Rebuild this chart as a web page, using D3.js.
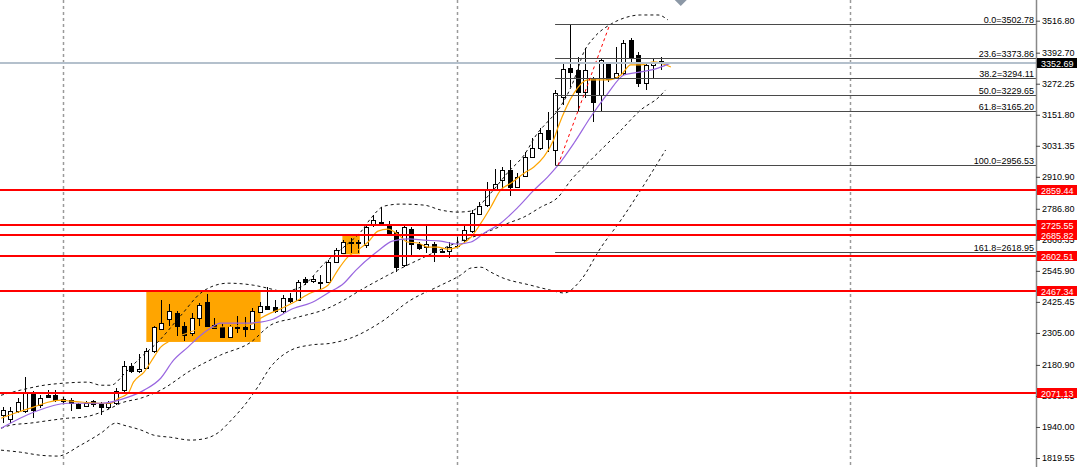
<!DOCTYPE html>
<html><head><meta charset="utf-8">
<script src="https://cdn.jsdelivr.net/npm/d3@7"></script>
<style>html,body{margin:0;padding:0;background:#fff;overflow:hidden}</style>
</head><body>
<svg id="c" width="1080" height="467"></svg>
<script>
// ---------- data ----------
const opens  = [1986,1970,2001,2001,2071,2025,2063,2063,2048,2044,2029,2021,2040,2029,2017,2032,2083,2176,2157,2168,2234,2320,2359,2382,2331,2304,2362,2425,2335,2328,2289,2324,2328,2320,2386,2409,2405,2390,2440,2432,2514,2506,2502,2502,2580,2615,2658,2654,2646,2727,2735,2727,2696,2568,2708,2650,2638,2650,2623,2623,2641,2665,2700,2766,2801,2863,2898,2937,2871,2914,2988,3022,3092,3015,3220,3333,3325,3240,3294,3228,3353,3298,3314,3442,3384,3275,3345,3360,3353];
const highs  = [2017,2017,2052,2133,2079,2063,2083,2083,2056,2052,2032,2040,2044,2036,2040,2091,2195,2188,2223,2246,2331,2432,2417,2390,2347,2382,2421,2456,2362,2339,2335,2370,2366,2401,2425,2483,2432,2452,2460,2510,2522,2526,2529,2588,2634,2665,2673,2665,2724,2762,2793,2739,2704,2724,2716,2658,2724,2658,2630,2658,2677,2724,2782,2813,2890,2941,2949,2976,2925,3007,3061,3100,3162,3248,3356,3502.78,3376,3411,3298,3372,3357,3415,3442,3450,3395,3357,3372,3376,3358];
const lows   = [1955,1955,1994,1994,1974,2013,2052,2036,2032,2001,2009,2017,2017,1986,2009,2025,2075,2149,2149,2164,2227,2316,2331,2293,2273,2293,2331,2328,2320,2285,2285,2304,2289,2316,2382,2394,2382,2382,2421,2428,2491,2498,2475,2498,2576,2611,2615,2615,2634,2716,2727,2681,2541,2560,2607,2626,2615,2580,2615,2595,2638,2658,2692,2762,2793,2859,2859,2836,2867,2910,2984,3015,3007,2956.53,3190,3259,3162,3217,3124,3162,3279,3294,3306,3357,3259,3248,3294,3325,3348];
const closes = [2005,2001,2036,2071,2005,2052,2056,2044,2040,2032,2013,2032,2029,2017,2032,2079,2176,2157,2164,2234,2328,2343,2390,2331,2296,2362,2413,2331,2324,2289,2331,2328,2320,2390,2409,2397,2390,2440,2428,2502,2502,2514,2498,2580,2626,2658,2654,2658,2716,2743,2731,2685,2560,2716,2650,2634,2650,2619,2619,2638,2643,2704,2770,2797,2859,2883,2937,2871,2910,2988,3022,3081,3057,3236,3329,3318,3240,3325,3201,3364,3290,3314,3430,3372,3275,3345,3353,3353,3352.69];

// indicator lines: [bar index, price]
const maFast = [[-0.2,1974],[2,1997],[4.1,2017],[6,2036],[7.7,2044],[9,2040],[10.7,2036],[13,2032],[14.3,2032],[15.4,2052],[16.6,2071],[17.3,2114],[18.7,2153],[20,2211],[20.9,2250],[21.8,2269],[24,2300],[27,2325],[30,2330],[33,2340],[34.1,2362],[35.4,2382],[36.4,2394],[38.5,2424],[40.7,2460],[43,2490],[44.3,2549],[45.6,2599],[46.9,2626],[48.3,2658],[49.6,2700],[50.9,2708],[52.2,2689],[53.5,2658],[54.9,2654],[56.2,2638],[57.5,2638],[58.8,2630],[60.1,2638],[60.5,2646],[61.9,2677],[63.2,2731],[64.5,2793],[65.8,2859],[67.2,2887],[68.9,2925],[70.2,2949],[71.5,2988],[72.8,3054],[73.4,3104],[75.5,3236],[77.3,3287],[80,3287],[81.7,3306],[83,3345],[84.3,3345],[86,3357],[88.3,3337]];
const maSlow = [[-0.2,1935],[4.1,1997],[8.6,2032],[13,2032],[16.6,2056],[18.7,2083],[20.9,2129],[22.6,2199],[24.5,2250],[26.2,2296],[27.5,2324],[28.8,2343],[31.9,2343],[34.1,2347],[35.4,2355],[38.5,2401],[40.7,2421],[43,2460],[45.1,2498],[46.7,2549],[49.6,2623],[51.5,2661],[53.7,2670],[55.7,2665],[57.9,2661],[60.1,2650],[61.9,2658],[63.6,2692],[65.8,2731],[68.1,2793],[70.2,2859],[72,2910],[73.4,2956],[75.5,3042],[77.7,3143],[80,3236],[82.1,3306],[84.3,3318],[86.6,3333],[88.3,3353]];
const bandUpper = [[-0.2,2063],[2.4,2083],[5.5,2102],[8.1,2110],[11.3,2114],[13,2102],[14.3,2102],[16.3,2153],[18.3,2211],[20.5,2269],[23.6,2374],[26.2,2460],[27.5,2483],[29.8,2498],[33.2,2490],[35,2479],[37,2467],[39.4,2483],[42.7,2580],[45.4,2646],[47.3,2696],[48.7,2751],[50.4,2797],[52.6,2805],[55.7,2801],[57.9,2782],[60.1,2774],[61.9,2778],[64.5,2848],[66.8,2929],[68.9,2995],[70.7,3081],[72,3124],[73.4,3170],[75.5,3287],[76.8,3395],[78.1,3450],[80.4,3504],[82.1,3527],[84.3,3539],[86.6,3539],[87.9,3520]];
const bandInner = [[-0.2,1935],[1.1,1947],[3.7,1955],[6.4,1966],[8.6,1974],[10.7,1978],[13,1997],[14.3,2013],[15.6,2032],[18.3,2052],[20.9,2083],[24.9,2160],[28.8,2219],[32.8,2269],[35.4,2335],[38.5,2362],[43,2401],[45.1,2432],[47.3,2471],[50.9,2529],[52.2,2549],[55.7,2599],[58.3,2634],[60.9,2665],[63.6,2692],[66.8,2731],[68.9,2755],[71.1,2793],[73.4,2832],[75.1,2898],[77.7,2976],[81.7,3092],[84.3,3170],[86.7,3220],[87.6,3248]];
const bandLower = [[-0.2,1850],[2.4,1842],[5.1,1830],[7.3,1827],[10.3,1869],[13,1916],[15,1955],[16,1947],[18.3,1928],[20,1908],[22.2,1900],[24.9,1889],[26.9,1896],[28.6,1920],[30.2,1966],[32.1,2029],[33.7,2094],[35.4,2172],[38.1,2238],[40.7,2258],[43.4,2265],[46,2285],[50,2347],[53.9,2432],[57.9,2490],[60.5,2529],[61.9,2557],[63.2,2560],[64.5,2541],[65.8,2522],[69.8,2490],[72.4,2471],[74.2,2460],[76.4,2510],[79,2634],[81.7,2743],[84.3,2859],[87.6,3015]];
const trendLine = [[73.4,2956.53],[80.2,3500]];

const fibLevels = ["0.0","23.6","38.2","50.0","61.8","100.0","161.8"];
const fibPrices = [3502.78,3373.86,3294.11,3229.65,3165.20,2956.53,2618.95];
const fibStartBar = 73;

const redLevels = [2859.44,2725.55,2685.82,2602.51,2467.34,2071.13];
const currentPrice = 3352.69;
const priceTicks = [3516.80,3392.70,3272.25,3151.80,3031.35,2910.90,2786.80,2666.35,2545.90,2425.45,2305.00,2180.90,2060.45,1940.00,1819.55];
const gridBars = [8,60,112];

const boxStart = [19,44.9];
const boxEnd = [34.1,47.2];
const boxTop = [2465,2685.82];
const boxBottom = [2270,2610];

// ---------- drawing ----------
const W=1080, H=467, axisX=1036;
const FONT="Liberation Sans, Arial, sans-serif";
const svg=d3.select("#c");
const x=d3.scaleLinear().domain([0,112]).range([2.5,850.3]);
const y=d3.scaleLinear().domain([1819.55,3516.80]).range([458,20.7]);

svg.append("defs").append("clipPath").attr("id","plot")
  .append("rect").attr("x",0).attr("y",0).attr("width",axisX).attr("height",H);
const plot=svg.append("g").attr("clip-path","url(#plot)");

// orange rectangles (background objects)
plot.selectAll("rect.box").data(boxStart).join("rect").attr("class","box")
  .attr("x",(d,i)=>x(d)).attr("width",(d,i)=>x(boxEnd[i])-x(d))
  .attr("y",(d,i)=>y(boxTop[i])).attr("height",(d,i)=>y(boxBottom[i])-y(boxTop[i]))
  .attr("fill","#FFA500");

// vertical grid
plot.selectAll("line.grid").data(gridBars).join("line").attr("class","grid")
  .attr("x1",d=>Math.round(x(d))+0.5).attr("x2",d=>Math.round(x(d))+0.5)
  .attr("y1",0).attr("y2",H).attr("stroke","#9a9a9a").attr("stroke-width",1.5)
  .attr("stroke-dasharray","3,3");

// candles
const idx=d3.range(opens.length);
const cg=plot.append("g");
idx.forEach(i=>{
  const xc=Math.round(x(i));
  const o=opens[i], c=closes[i];
  cg.append("line").attr("x1",xc+0.5).attr("x2",xc+0.5)
    .attr("y1",Math.round(y(highs[i]))).attr("y2",Math.round(y(lows[i])))
    .attr("stroke","#000").attr("stroke-width",1);
  const top=Math.round(y(Math.max(o,c))), bot=Math.round(y(Math.min(o,c)));
  const up=c>=o;
  if(bot-top<1){
    cg.append("line").attr("x1",xc-2).attr("x2",xc+3).attr("y1",top+0.5).attr("y2",top+0.5)
      .attr("stroke","#000").attr("stroke-width",1);
  } else {
    cg.append("rect").attr("x",xc-1.5).attr("y",top+0.5).attr("width",4).attr("height",bot-top)
      .attr("fill",up?"#fff":"#000").attr("stroke","#000").attr("stroke-width",1);
  }
});

// indicator lines
const line=d3.line().x(d=>x(d[0])).y(d=>y(d[1])).curve(d3.curveMonotoneX);
[bandUpper,bandInner,bandLower].forEach(b=>{
  plot.append("path").attr("d",line(b)).attr("fill","none").attr("stroke","#111")
    .attr("stroke-width",1).attr("stroke-dasharray","3,3");
});
plot.append("path").attr("d",line(maFast)).attr("fill","none").attr("stroke","#FFA500").attr("stroke-width",1.2);
plot.append("path").attr("d",line(maSlow)).attr("fill","none").attr("stroke","#9966E0").attr("stroke-width",1.2);

// fibonacci
fibPrices.forEach((p,i)=>{
  const yy=Math.round(y(p))+0.5;
  plot.append("line").attr("x1",x(fibStartBar)).attr("x2",axisX).attr("y1",yy).attr("y2",yy)
    .attr("stroke","#4a4a4a").attr("stroke-width",1);
  svg.append("text").attr("x",axisX-2).attr("y",yy-2).attr("text-anchor","end")
    .attr("font-family",FONT).attr("font-size",9).attr("fill","#000")
    .text(fibLevels[i]+"="+p.toFixed(2));
});

// red dashed trend line
plot.append("path").attr("d",d3.line().x(d=>x(d[0])).y(d=>y(d[1]))(trendLine))
  .attr("stroke","#ff0000").attr("stroke-width",1).attr("stroke-dasharray","3,3").attr("fill","none");

// horizontal levels
redLevels.forEach(v=>{
  plot.append("line").attr("x1",0).attr("x2",axisX).attr("y1",Math.round(y(v))).attr("y2",Math.round(y(v)))
    .attr("stroke","#ff0000").attr("stroke-width",2);
});
plot.append("line").attr("x1",0).attr("x2",axisX).attr("y1",Math.round(y(currentPrice))).attr("y2",Math.round(y(currentPrice)))
  .attr("stroke","#b4c0cc").attr("stroke-width",2);

// price axis
svg.append("line").attr("x1",axisX+0.5).attr("x2",axisX+0.5).attr("y1",0).attr("y2",H)
  .attr("stroke","#888").attr("stroke-width",1.5);
const ax=d3.axisRight(y).tickValues(priceTicks).tickFormat(d=>d.toFixed(2)).tickSize(4).tickPadding(2);
const ag=svg.append("g").attr("transform",`translate(${axisX},0)`).call(ax);
ag.select(".domain").remove();
ag.selectAll(".tick line").attr("stroke","#444");
ag.selectAll(".tick text").attr("font-family",FONT).attr("font-size",9).attr("fill","#000");

// price labels
redLevels.forEach(v=>{
  const yy=y(v);
  svg.append("rect").attr("x",axisX+1).attr("y",Math.round(yy)-5).attr("width",40).attr("height",10).attr("fill","#ff0000");
  svg.append("text").attr("x",axisX+5).attr("y",Math.round(yy)+3.5).attr("font-family",FONT).attr("font-size",9)
    .attr("fill","#fff").text(v.toFixed(2));
});
{
  const yy=Math.round(y(currentPrice));
  svg.append("rect").attr("x",axisX+1).attr("y",yy-5).attr("width",40).attr("height",10).attr("fill","#000");
  svg.append("text").attr("x",axisX+5).attr("y",yy+3.5).attr("font-family",FONT).attr("font-size",9)
    .attr("fill","#fff").text(currentPrice.toFixed(2));
}

// chart shift marker
const mx=x(89.6);
svg.append("path").attr("d",`M${mx-6},0 L${mx+6},0 L${mx},6 Z`).attr("fill","#8c98a6");
</script>
</body></html>
